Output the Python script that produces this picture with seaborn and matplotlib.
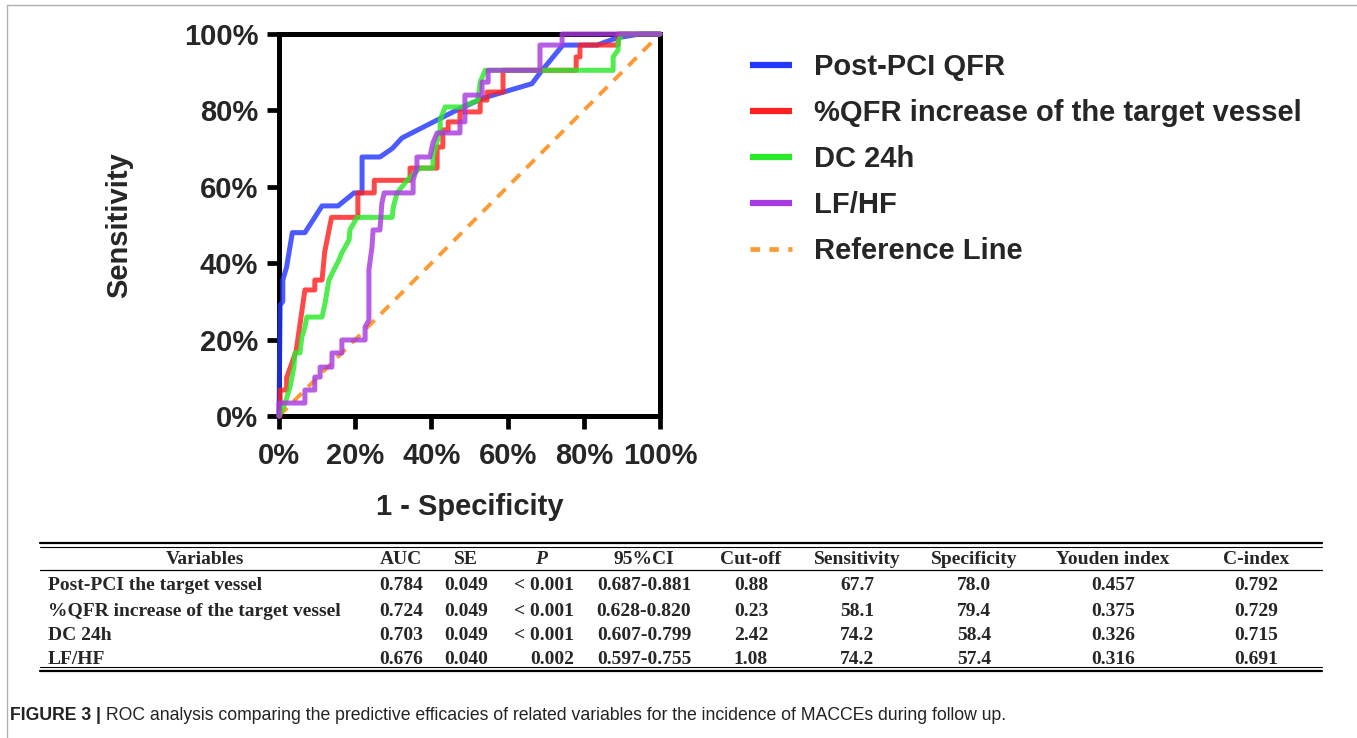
import matplotlib
matplotlib.use("Agg")
import matplotlib.pyplot as plt
import seaborn as sns
import pandas as pd
from matplotlib.lines import Line2D

# ---------------- data ----------------
series_names = ["Post-PCI QFR", "%QFR increase of the target vessel", "DC 24h", "LF/HF"]

qfr_x = [0, 0.003, 0.01, 0.01, 0.02, 0.035, 0.068, 0.113, 0.155, 0.197, 0.218, 0.218,
         0.265, 0.297, 0.323, 0.457, 0.535, 0.664, 0.685, 0.745, 0.835, 0.887, 0.948, 1.0]
qfr_y = [0, 0.29, 0.30, 0.356, 0.39, 0.48, 0.48, 0.55, 0.55, 0.584, 0.584, 0.678,
         0.678, 0.70, 0.728, 0.796, 0.832, 0.87, 0.898, 0.971, 0.971, 0.99, 1.0, 1.0]

inc_x = [0, 0.003, 0.003, 0.02, 0.02, 0.045, 0.068, 0.094, 0.094, 0.113, 0.12, 0.13, 0.138,
         0.207, 0.207, 0.25, 0.25, 0.344, 0.344, 0.415, 0.415, 0.43, 0.43, 0.444, 0.444,
         0.475, 0.475, 0.528, 0.528, 0.546, 0.546, 0.588, 0.588, 0.78, 0.78, 0.79, 0.79,
         0.89, 0.89, 1.0]
inc_y = [0, 0, 0.068, 0.068, 0.10, 0.17, 0.33, 0.33, 0.356, 0.356, 0.43, 0.48, 0.52,
         0.52, 0.584, 0.584, 0.617, 0.617, 0.649, 0.649, 0.704, 0.704, 0.749, 0.749, 0.77,
         0.77, 0.796, 0.796, 0.827, 0.827, 0.848, 0.848, 0.905, 0.905, 0.94, 0.94, 0.971,
         0.971, 1.0, 1.0]

dc_x = [0, 0.016, 0.029, 0.039, 0.042, 0.055, 0.060, 0.068, 0.073, 0.113, 0.121, 0.131,
        0.157, 0.165, 0.184, 0.186, 0.205, 0.297, 0.30, 0.31, 0.336, 0.37, 0.404, 0.404,
        0.423, 0.423, 0.436, 0.48, 0.522, 0.528, 0.541, 0.877, 0.877, 0.89, 0.89, 0.90, 1.0]
dc_y = [0, 0.034, 0.076, 0.128, 0.165, 0.165, 0.207, 0.233, 0.259, 0.259, 0.296, 0.356,
        0.408, 0.427, 0.461, 0.487, 0.52, 0.52, 0.547, 0.584, 0.617, 0.649, 0.649, 0.678,
        0.749, 0.775, 0.809, 0.809, 0.827, 0.874, 0.905, 0.905, 0.94, 0.958, 0.98, 1.0, 1.0]

lfhf_x = [0, 0, 0.068, 0.068, 0.094, 0.094, 0.108, 0.108, 0.139, 0.139, 0.165, 0.165,
          0.226, 0.226, 0.236, 0.236, 0.244, 0.247, 0.265, 0.27, 0.276, 0.352, 0.352,
          0.362, 0.362, 0.396, 0.404, 0.415, 0.475, 0.475, 0.488, 0.488, 0.533, 0.533,
          0.549, 0.549, 0.685, 0.685, 0.743, 0.743, 1.0]
lfhf_y = [0, 0.034, 0.034, 0.068, 0.068, 0.102, 0.102, 0.128, 0.128, 0.165, 0.165, 0.199,
          0.199, 0.233, 0.251, 0.382, 0.442, 0.487, 0.487, 0.557, 0.584, 0.584, 0.617,
          0.652, 0.678, 0.678, 0.715, 0.741, 0.741, 0.77, 0.77, 0.84, 0.84, 0.874,
          0.874, 0.905, 0.905, 0.971, 0.971, 1.0, 1.0]

ref_x = [0, 1]
ref_y = [0, 1]

ticks = [0, 0.2, 0.4, 0.6, 0.8, 1.0]
tick_labels = ["0%", "20%", "40%", "60%", "80%", "100%"]

table_header = ["Variables", "AUC", "SE", "P", "95%CI", "Cut-off", "Sensitivity",
                "Specificity", "Youden index", "C-index"]
table_vars = ["Post-PCI the target vessel", "%QFR increase of the target vessel",
              "DC 24h", "LF/HF"]
table_auc = ["0.784", "0.724", "0.703", "0.676"]
table_se = ["0.049", "0.049", "0.049", "0.040"]
table_p = ["< 0.001", "< 0.001", "< 0.001", "0.002"]
table_ci = ["0.687-0.881", "0.628-0.820", "0.607-0.799", "0.597-0.755"]
table_cut = ["0.88", "0.23", "2.42", "1.08"]
table_sens = ["67.7", "58.1", "74.2", "74.2"]
table_spec = ["78.0", "79.4", "58.4", "57.4"]
table_youden = ["0.457", "0.375", "0.326", "0.316"]
table_cindex = ["0.792", "0.729", "0.715", "0.691"]

caption_bold = "FIGURE 3 |"
caption_rest = (" ROC analysis comparing the predictive efficacies of related variables "
                "for the incidence of MACCEs during follow up.")

# ---------------- figure ----------------
sns.set_theme(style="white")
plt.rcParams['font.family'] = ['Liberation Sans', 'DejaVu Sans']

W, H = 1357, 738
fig = plt.figure(figsize=(W / 100, H / 100), dpi=100)

def fx(px):
    return px / W

def fy(py):
    return 1 - py / H

# outer light border
fig.add_artist(Line2D([fx(7), fx(7)], [fy(5), 0], color="#b0b0b0", lw=1.0))
fig.add_artist(Line2D([fx(7), 1], [fy(5), fy(5)], color="#b0b0b0", lw=1.0))

ax = fig.add_axes([fx(279), fy(416), fx(660) - fx(279), fy(34) - fy(416)])

colors = ["#2437ff", "#ff2020", "#2ae82a", "#a83ae0"]
xs = [qfr_x, inc_x, dc_x, lfhf_x]
ys = [qfr_y, inc_y, dc_y, lfhf_y]

handles = []
for name, x, y, c in zip(series_names, xs, ys, colors):
    df = pd.DataFrame({"fpr": x, "tpr": y})
    sns.lineplot(data=df, x="fpr", y="tpr", sort=False, estimator=None, color=c,
                 lw=3.6, alpha=0.82, ax=ax, clip_on=False, zorder=3)
    handles.append(Line2D([], [], color=c, lw=4.5, solid_capstyle="butt"))

ref_df = pd.DataFrame({"fpr": ref_x, "tpr": ref_y})
sns.lineplot(data=ref_df, x="fpr", y="tpr", sort=False, estimator=None, color="#ff9a33",
             lw=2.8, dashes=False, ax=ax, zorder=2, clip_on=False)
ax.lines[-1].set_dashes((3, 2.3))
handles.append(Line2D([], [], color="#ff9a33", lw=3.4, dashes=(2.0, 2.0)))

ax.set_xlim(0, 1)
ax.set_ylim(0, 1)
ax.set_xticks(ticks)
ax.set_xticklabels(tick_labels)
ax.set_yticks(ticks)
ax.set_yticklabels(tick_labels)
for sp in ax.spines.values():
    sp.set_visible(True)
    sp.set_color("black")
    sp.set_linewidth(3.6)
ax.tick_params(axis="both", which="major", direction="out", length=9, width=3.4,
               color="black", labelsize=21, pad=6, bottom=True, left=True)
ax.tick_params(axis="x", pad=10)
for lab in ax.get_xticklabels() + ax.get_yticklabels():
    lab.set_fontweight("bold")
ax.grid(False)
ax.set_facecolor("white")

ax.set_xlabel("1 - Specificity", fontsize=21, fontweight="bold")
ax.set_ylabel("Sensitivity", fontsize=21, fontweight="bold")
ax.xaxis.set_label_coords(0.5, (416 - 493) / 382)
ax.yaxis.set_label_coords((133 - 279) / 381, 0.5)

leg = fig.legend(handles, series_names + ["Reference Line"], loc="upper left",
                 bbox_to_anchor=(fx(750), fy(53)), frameon=False, borderpad=0,
                 borderaxespad=0, handlelength=1.45, handletextpad=0.75,
                 labelspacing=0.62, prop={"weight": "bold", "size": 21})

# ---------------- table ----------------
tfont = ['Liberation Serif', 'DejaVu Serif']
tsize = 14
x_left, x_right = 40, 1322
for py, lw in [(543, 1.6), (546.5, 0.8), (570, 0.9), (667, 0.8), (670.5, 1.6)]:
    fig.add_artist(Line2D([fx(x_left), fx(x_right)], [fy(py), fy(py)], color="black", lw=lw))

col_centers = [205, 401, 466, 541, 644, 751, 857, 974, 1113, 1256]
header_y = 559
for i, (h, cx) in enumerate(zip(table_header, col_centers)):
    fig.text(fx(cx), fy(header_y), h, ha="center", va="center", family=tfont,
             fontsize=tsize, fontweight="bold", fontstyle="italic" if h == "P" else "normal")

row_ys = [586, 611, 635, 660]
cols = [table_auc, table_se, None, table_ci, table_cut, table_sens, table_spec,
        table_youden, table_cindex]
for r, ry in enumerate(row_ys):
    fig.text(fx(48), fy(ry), table_vars[r], ha="left", va="center", family=tfont,
             fontsize=tsize, fontweight="bold")
    for j, col in enumerate(cols):
        cx = col_centers[j + 1]
        if col is None:
            fig.text(fx(574), fy(ry), table_p[r], ha="right", va="center", family=tfont,
                     fontsize=tsize, fontweight="bold")
        else:
            fig.text(fx(cx), fy(ry), col[r], ha="center", va="center", family=tfont,
                     fontsize=tsize, fontweight="bold")

# ---------------- caption ----------------
csize = 12.7
t1 = fig.text(fx(10), fy(716), caption_bold, ha="left", va="center", fontsize=csize,
              fontweight="bold", color="#222222")
fig.canvas.draw()
bb = t1.get_window_extent(renderer=fig.canvas.get_renderer())
fig.text(bb.x1 / W, fy(716), caption_rest, ha="left", va="center", fontsize=csize,
         color="#222222")

fig.savefig("out.png", dpi=100, facecolor="white")
